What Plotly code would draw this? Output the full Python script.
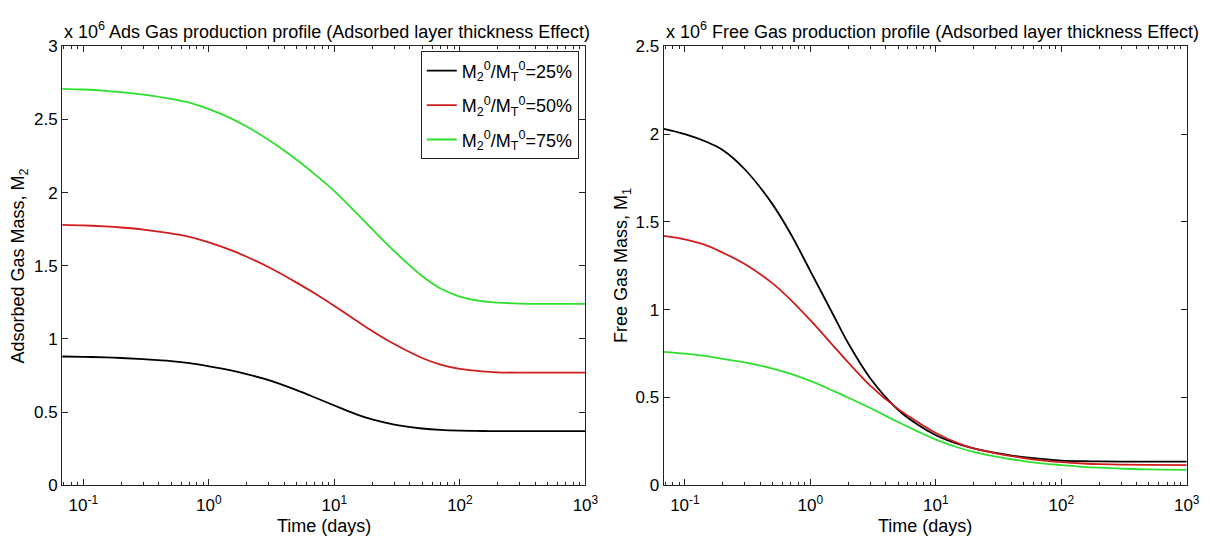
import plotly.graph_objects as go

# Time axis (days)
time_days = [0.068, 0.1, 0.15, 0.2, 0.3, 0.5, 0.7, 1, 1.5, 2, 3, 5, 7, 10,
             15, 20, 30, 50, 70, 100, 150, 200, 300, 500, 1000]

# Adsorbed gas mass M2 (x 10^6) for each initial adsorbed fraction
ads_25 = [0.880, 0.878, 0.874, 0.870, 0.862, 0.849, 0.835, 0.813, 0.785, 0.760,
          0.718, 0.650, 0.600, 0.545, 0.485, 0.450, 0.415, 0.388, 0.378, 0.373,
          0.371, 0.370, 0.370, 0.370, 0.370]
ads_50 = [1.780, 1.776, 1.769, 1.762, 1.748, 1.721, 1.698, 1.660, 1.607, 1.562,
          1.490, 1.385, 1.310, 1.225, 1.125, 1.055, 0.965, 0.870, 0.825, 0.795,
          0.778, 0.772, 0.770, 0.770, 0.770]
ads_75 = [2.710, 2.705, 2.696, 2.687, 2.670, 2.641, 2.615, 2.571, 2.508, 2.452,
          2.360, 2.225, 2.125, 2.010, 1.860, 1.750, 1.600, 1.430, 1.345, 1.290,
          1.258, 1.248, 1.242, 1.240, 1.240]

# Free gas mass M1 (x 10^6)
free_25 = [2.030, 2.000, 1.955, 1.910, 1.800, 1.600, 1.430, 1.220, 0.980, 0.810,
           0.610, 0.430, 0.350, 0.285, 0.235, 0.210, 0.185, 0.160, 0.150, 0.140,
           0.137, 0.136, 0.135, 0.135, 0.135]
free_50 = [1.420, 1.400, 1.365, 1.325, 1.260, 1.150, 1.055, 0.940, 0.800, 0.700,
           0.568, 0.435, 0.365, 0.298, 0.240, 0.210, 0.182, 0.155, 0.142, 0.132,
           0.124, 0.120, 0.117, 0.116, 0.115]
free_75 = [0.760, 0.750, 0.735, 0.720, 0.700, 0.665, 0.635, 0.595, 0.540, 0.500,
           0.440, 0.360, 0.310, 0.260, 0.215, 0.190, 0.163, 0.138, 0.125, 0.115,
           0.105, 0.100, 0.095, 0.090, 0.088]

series_names = ["M<sub>2</sub><sup>0</sup>/M<sub>T</sub><sup>0</sup>=25%",
                "M<sub>2</sub><sup>0</sup>/M<sub>T</sub><sup>0</sup>=50%",
                "M<sub>2</sub><sup>0</sup>/M<sub>T</sub><sup>0</sup>=75%"]
series_colors = ["#000000", "#d01c1c", "#2ee02e"]

x_major = [0.1, 1, 10, 100, 1000]
x_major_text = ["10<sup>-1</sup>", "10<sup>0</sup>", "10<sup>1</sup>",
                "10<sup>2</sup>", "10<sup>3</sup>"]
x_minor = [m * d for d in (0.01, 0.1, 1, 10, 100) for m in range(2, 10)
           if 0.068 <= m * d < 1000]

FONT = "Liberation Sans, Arial, sans-serif"
TICK_SIZE = 17
LABEL_SIZE = 18

fig = go.Figure()

for i, (ys, name, col) in enumerate(zip((ads_25, ads_50, ads_75), series_names, series_colors)):
    fig.add_trace(go.Scatter(x=time_days, y=ys, mode="lines", name=name,
                             legendgroup=f"g{i}",
                             line=dict(color=col, width=1.8, shape="spline", smoothing=1.0),
                             xaxis="x", yaxis="y"))
for i, (ys, name, col) in enumerate(zip((free_25, free_50, free_75), series_names, series_colors)):
    fig.add_trace(go.Scatter(x=time_days, y=ys, mode="lines", name=name,
                             legendgroup=f"g{i}",
                             line=dict(color=col, width=1.8, shape="spline", smoothing=1.0),
                             xaxis="x2", yaxis="y2", showlegend=False))

W, H = 1221, 550
left_dom = [62.7 / W, 591.7 / W]
right_dom = [670.7 / W, 1199.5 / W]
y_dom = [(H - 493.3) / H, (H - 38.7) / H]

def xaxis_style(dom, anchor):
    return dict(domain=dom, anchor=anchor, type="log",
                range=[-1.17, 3], tickmode="array", tickvals=x_major,
                ticktext=x_major_text, ticks="inside", ticklen=6,
                tickcolor="#222", showline=True, linecolor="#222", linewidth=1,
                mirror="allticks", showgrid=False, zeroline=False,
                ticklabelstandoff=4,
                tickfont=dict(family=FONT, size=TICK_SIZE, color="black"),
                minor=dict(tickmode="array", tickvals=x_minor, ticks="inside",
                           ticklen=3, tickcolor="#222", showgrid=False))

def yaxis_style(dom, anchor, top):
    vals = [i * 0.5 for i in range(int(top / 0.5) + 1)]
    return dict(domain=dom, anchor=anchor, range=[0, top], tickmode="array",
                tickvals=vals, ticktext=[f"{v:g}" for v in vals],
                ticks="inside", ticklen=6, tickcolor="#222",
                showline=True, linecolor="#222", linewidth=1, mirror="allticks",
                showgrid=False, zeroline=False,
                tickfont=dict(family=FONT, size=TICK_SIZE, color="black"))

fig.update_layout(
    width=W, height=H,
    margin=dict(l=0, r=0, t=0, b=0),
    paper_bgcolor="white", plot_bgcolor="white",
    font=dict(family=FONT, size=LABEL_SIZE, color="black"),
    xaxis=xaxis_style(left_dom, "y"),
    yaxis=yaxis_style(y_dom, "x", 3),
    xaxis2=xaxis_style(right_dom, "y2"),
    yaxis2=yaxis_style(y_dom, "x2", 2.5),
    showlegend=True,
    legend=dict(x=585 / W, y=(H - 44) / H, xanchor="right", yanchor="top",
                bgcolor="white", bordercolor="#222", borderwidth=1,
                font=dict(family=FONT, size=LABEL_SIZE, color="black"),
                tracegroupgap=8),
)

annotations = [
    dict(text="x 10<sup>6</sup> Ads Gas production profile (Adsorbed layer thickness Effect)",
         x=left_dom[0], y=(H - 36) / H, xanchor="left", yanchor="bottom"),
    dict(text="x 10<sup>6</sup> Free Gas production profile (Adsorbed layer thickness Effect)",
         x=right_dom[0], y=(H - 36) / H, xanchor="left", yanchor="bottom"),
    dict(text="Time (days)", x=(left_dom[0] + left_dom[1]) / 2, y=(H - 536) / H,
         xanchor="center", yanchor="middle"),
    dict(text="Time (days)", x=(right_dom[0] + right_dom[1]) / 2, y=(H - 536) / H,
         xanchor="center", yanchor="middle"),
    dict(text="Adsorbed Gas Mass, M<sub>2</sub>", x=20 / W, y=(y_dom[0] + y_dom[1]) / 2,
         textangle=-90, xanchor="center", yanchor="middle"),
    dict(text="Free Gas Mass, M<sub>1</sub>", x=630 / W, y=(y_dom[0] + y_dom[1]) / 2,
         textangle=-90, xanchor="center", yanchor="middle"),
]
for a in annotations:
    a.update(xref="paper", yref="paper", showarrow=False,
             font=dict(family=FONT, size=LABEL_SIZE, color="black"))
fig.update_layout(annotations=annotations)

fig.write_html("out.html")
